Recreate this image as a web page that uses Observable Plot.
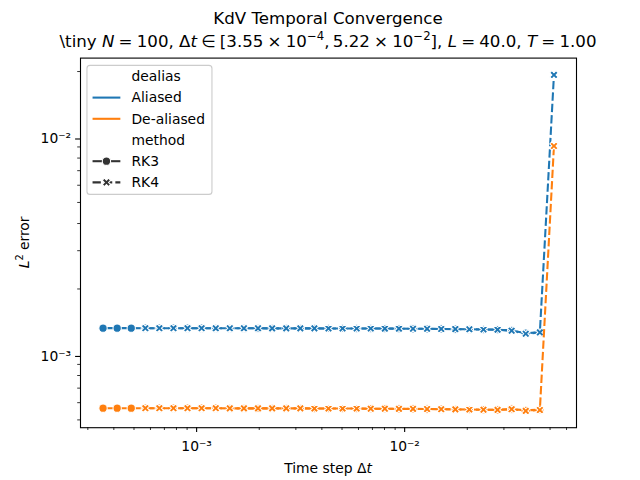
<!DOCTYPE html>
<html><head><meta charset="utf-8">
<script src="https://cdn.jsdelivr.net/npm/d3@7"></script>
<script src="https://cdn.jsdelivr.net/npm/@observablehq/plot@0.6"></script>
<style>
html,body{margin:0;padding:0;background:#fff}
svg{font-family:"DejaVu Sans",sans-serif}
</style>
</head><body><div id="chart"></div>
<script>
// ---- data ----
const dt = [3.55e-4,4.15e-4,4.85e-4,5.67e-4,6.62e-4,7.74e-4,9.04e-4,1.057e-3,1.236e-3,1.444e-3,
  1.688e-3,1.973e-3,2.307e-3,2.696e-3,3.151e-3,3.682e-3,4.304e-3,5.030e-3,5.879e-3,6.871e-3,
  8.031e-3,9.387e-3,1.097e-2,1.282e-2,1.499e-2,1.752e-2,2.047e-2,2.393e-2,2.797e-2,3.269e-2,
  3.821e-2,4.466e-2,5.22e-2];
// RK3 runs on dt[0..31], RK4 runs on dt[3..32]
const rk3Offset = 0;
const rk4Offset = 3;
const aliasedRK3 = [1.321e-3,1.321e-3,1.321e-3,
  1.320e-3,1.320e-3,1.320e-3,1.320e-3,1.320e-3,1.319e-3,1.319e-3,1.319e-3,1.319e-3,1.318e-3,
  1.318e-3,1.318e-3,1.318e-3,1.317e-3,1.317e-3,1.316e-3,1.316e-3,1.315e-3,1.314e-3,1.313e-3,
  1.312e-3,1.310e-3,1.308e-3,1.305e-3,1.302e-3,1.300e-3,1.289e-3,1.252e-3,1.266e-3];
const aliasedRK4 = [
  1.320e-3,1.320e-3,1.320e-3,1.320e-3,1.320e-3,1.319e-3,1.319e-3,1.319e-3,1.319e-3,1.318e-3,
  1.318e-3,1.318e-3,1.318e-3,1.317e-3,1.317e-3,1.316e-3,1.316e-3,1.315e-3,1.314e-3,1.313e-3,
  1.312e-3,1.310e-3,1.308e-3,1.305e-3,1.302e-3,1.300e-3,1.286e-3,1.245e-3,1.263e-3,1.93e-2];
const dealiasedRK3 = [5.66e-4,5.66e-4,5.66e-4,
  5.66e-4,5.66e-4,5.66e-4,5.66e-4,5.66e-4,5.66e-4,5.65e-4,5.65e-4,5.65e-4,5.65e-4,
  5.65e-4,5.65e-4,5.64e-4,5.64e-4,5.64e-4,5.64e-4,5.63e-4,5.63e-4,5.62e-4,5.62e-4,
  5.61e-4,5.60e-4,5.59e-4,5.58e-4,5.57e-4,5.56e-4,5.61e-4,5.53e-4,5.57e-4];
const dealiasedRK4 = [
  5.66e-4,5.66e-4,5.66e-4,5.66e-4,5.66e-4,5.66e-4,5.65e-4,5.65e-4,5.65e-4,5.65e-4,
  5.65e-4,5.65e-4,5.64e-4,5.64e-4,5.64e-4,5.64e-4,5.63e-4,5.63e-4,5.62e-4,5.62e-4,
  5.61e-4,5.60e-4,5.59e-4,5.58e-4,5.57e-4,5.56e-4,5.60e-4,5.50e-4,5.55e-4,9.09e-3];
const dealiasLevels = ["Aliased","De-aliased"];
const methodLevels = ["RK3","RK4"];
const palette = ["#1f77b4","#ff7f0e"];
const xMajorTicks = [1e-3,1e-2];
const xMajorLabels = ["10\u207B\u00B3","10\u207B\u00B2"];
const xMinorTicks = [3e-4,4e-4,5e-4,6e-4,7e-4,8e-4,9e-4,2e-3,3e-3,4e-3,5e-3,6e-3,7e-3,8e-3,9e-3,2e-2,3e-2,4e-2,5e-2,6e-2];
const yMajorTicks = [1e-3,1e-2];
const yMajorLabels = ["10\u207B\u00B3","10\u207B\u00B2"];
const yMinorTicks = [4e-4,5e-4,6e-4,7e-4,8e-4,9e-4,2e-3,3e-3,4e-3,5e-3,6e-3,7e-3,8e-3,9e-3,2e-2,3e-2];

// ---- build table ----
function rowsFor(vals, offset, dealias, method) {
  return vals.map((v, i) => ({dt: dt[i + offset], err: v, dealias, method}));
}
const groups = [
  rowsFor(aliasedRK3, rk3Offset, "Aliased", "RK3"),
  rowsFor(aliasedRK4, rk4Offset, "Aliased", "RK4"),
  rowsFor(dealiasedRK3, rk3Offset, "De-aliased", "RK3"),
  rowsFor(dealiasedRK4, rk4Offset, "De-aliased", "RK4")
];
const all = groups.flat();

// ---- layout ----
const W = 640, H = 480, mL = 80, mR = 64, mT = 57.6, mB = 52.8;
const fs = 13.89;
function logDomain(vals) {
  const e = d3.extent(vals).map(Math.log10);
  const p = (e[1] - e[0]) * 0.05;
  return [10 ** (e[0] - p), 10 ** (e[1] + p)];
}
const xDom = logDomain(all.map(d => d.dt));
const yDom = logDomain(all.map(d => d.err));
const inDom = (dom) => (t) => t >= dom[0] && t <= dom[1];

// filled "X" marker (matplotlib 'X')
const xFilled = {
  draw(ctx, size) {
    const s = 2 * Math.sqrt(size / Math.PI);
    const v = [[-0.25,-0.5],[0,-0.25],[0.25,-0.5],[0.5,-0.25],[0.25,0],[0.5,0.25],
               [0.25,0.5],[0,0.25],[-0.25,0.5],[-0.5,0.25],[-0.25,0],[-0.5,-0.25]];
    ctx.moveTo(v[0][0] * s, v[0][1] * s);
    for (let i = 1; i < v.length; i++) ctx.lineTo(v[i][0] * s, v[i][1] * s);
    ctx.closePath();
  }
};
const dash = "8.3,3.1";
const lw = 2.08, mr = 4.17, mew = 1.04;

const groupMarks = groups.flatMap(g => {
  const isRK4 = g[0].method === "RK4";
  return [
    Plot.line(g, {x: "dt", y: "err", stroke: "dealias", strokeWidth: lw,
      strokeDasharray: isRK4 ? dash : null, strokeLinecap: isRK4 ? "butt" : "square"}),
    Plot.dot(g, {x: "dt", y: "err", fill: "dealias", stroke: "white", strokeWidth: mew,
      r: mr, symbol: isRK4 ? xFilled : "circle"})
  ];
});

const plot = Plot.plot({
  width: W, height: H,
  marginLeft: mL, marginRight: mR, marginTop: mT, marginBottom: mB,
  style: {fontFamily: "DejaVu Sans", fontSize: fs + "px", color: "black", background: "white"},
  x: {type: "log", domain: xDom},
  y: {type: "log", domain: yDom},
  color: {domain: dealiasLevels, range: palette},
  marks: [
    Plot.axisX({ticks: xMinorTicks.filter(inDom(xDom)), tickFormat: () => "", tickSize: 2.8, strokeWidth: 0.8, label: null}),
    Plot.axisX({ticks: xMajorTicks, tickFormat: d => xMajorLabels[xMajorTicks.indexOf(d)], tickSize: 4.9, tickPadding: 9, strokeWidth: 1.1, fontSize: fs, label: null}),
    Plot.axisY({ticks: yMinorTicks.filter(inDom(yDom)), tickFormat: () => "", tickSize: 2.8, strokeWidth: 0.8, label: null}),
    Plot.axisY({ticks: yMajorTicks, tickFormat: d => yMajorLabels[yMajorTicks.indexOf(d)], tickSize: 4.9, tickPadding: 4.5, strokeWidth: 1.1, fontSize: fs, dy: 2, label: null}),
    ...groupMarks,
    Plot.frame({stroke: "black", strokeWidth: 1.1})
  ]
});
document.getElementById("chart").appendChild(plot);

// ---- titles, axis labels, legend (text as real SVG text) ----
const svg = d3.select(plot);
const cx = mL + (W - mL - mR) / 2;
svg.append("text").attr("x", cx).attr("y", 23.5).attr("text-anchor", "middle")
  .attr("font-size", 16.67).attr("fill", "black").text("KdV Temporal Convergence");
const t2 = svg.append("text").attr("x", cx).attr("y", 47).attr("text-anchor", "middle")
  .attr("font-size", 16.67).attr("fill", "black");
const sp = "\u2005";
const parts = [
  ["\\tiny ", null], ["N", "i"], [sp + "=" + sp + "100, \u0394", null], ["t", "i"],
  [sp + "\u2208" + sp + "[3.55" + sp + "\u00D7" + sp + "10", null],
  ["\u22124", "sup"], [",\u2009" + "5.22" + sp + "\u00D7" + sp + "10", null], ["\u22122", "sup"], ["], ", null], ["L", "i"],
  [sp + "=" + sp + "40.0, ", null], ["T", "i"], [sp + "=" + sp + "1.00", null]
];
let prevSup = false;
parts.forEach(([s, k]) => {
  const ts = t2.append("tspan").text(s);
  if (k === "i") ts.attr("font-style", "italic");
  if (k === "sup") ts.attr("font-size", 11.7).attr("dy", -7);
  else if (prevSup) ts.attr("dy", 7);
  prevSup = k === "sup";
});

// x label
const xl = svg.append("text").attr("x", cx).attr("y", 473).attr("text-anchor", "middle")
  .attr("font-size", fs).attr("fill", "black");
xl.append("tspan").text("Time step \u0394");
xl.append("tspan").attr("font-style", "italic").text("t");
// y label
const cy = mT + (H - mT - mB) / 2;
const yl = svg.append("text").attr("transform", `translate(29,${cy}) rotate(-90)`).attr("text-anchor", "middle")
  .attr("font-size", fs).attr("fill", "black");
yl.append("tspan").attr("font-style", "italic").text("L");
yl.append("tspan").attr("font-size", 9.7).attr("dy", -6).text("2");
yl.append("tspan").attr("dy", 6).text(" error");

// legend
const lg = svg.append("g").attr("text-anchor", "start");
const bx = mL + 6.95, by = mT + 7.8, bw = 125, bh = 129;
lg.append("rect").attr("x", bx).attr("y", by).attr("width", bw).attr("height", bh).attr("rx", 3)
  .attr("fill", "white").attr("fill-opacity", 0.8).attr("stroke", "#cccccc").attr("stroke-width", 1.1);
const rowY = i => by + 11 + i * 21.2;
const hx0 = bx + 5.6, hx1 = hx0 + 27.8, tx = hx1 + 11.1;
const entries = [
  {label: "dealias"},
  {label: dealiasLevels[0], color: palette[0]},
  {label: dealiasLevels[1], color: palette[1]},
  {label: "method"},
  {label: methodLevels[0], color: "#333333", marker: "o"},
  {label: methodLevels[1], color: "#333333", marker: "X", dash: true}
];
entries.forEach((e, i) => {
  const y = rowY(i);
  if (e.color) {
    lg.append("line").attr("x1", hx0).attr("x2", hx1).attr("y1", y).attr("y2", y)
      .attr("stroke", e.color).attr("stroke-width", lw).attr("stroke-dasharray", e.dash ? dash : null);
  }
  if (e.marker === "o") {
    lg.append("circle").attr("cx", (hx0 + hx1) / 2).attr("cy", y).attr("r", mr)
      .attr("fill", e.color).attr("stroke", "white").attr("stroke-width", mew);
  } else if (e.marker === "X") {
    lg.append("path").attr("transform", `translate(${(hx0 + hx1) / 2},${y})`)
      .attr("d", d3.symbol(xFilled, Math.PI * mr * mr)())
      .attr("fill", e.color).attr("stroke", "white").attr("stroke-width", mew);
  }
  lg.append("text").attr("x", tx).attr("y", y).attr("dy", "0.35em").attr("font-size", fs)
    .attr("text-anchor", "start").attr("fill", "black").text(e.label);
});
</script>
</body></html>
